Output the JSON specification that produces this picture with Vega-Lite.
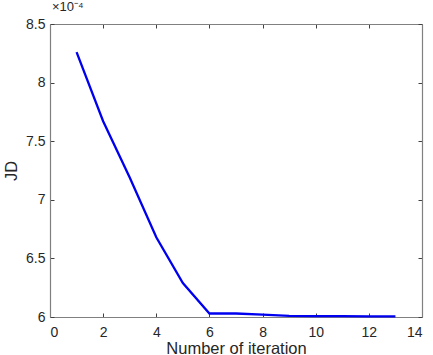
{
  "$schema": "https://vega.github.io/schema/vega-lite/v6.json",
  "width": 372,
  "height": 293,
  "autosize": "none",
  "padding": {"left": 50, "top": 24, "right": 11, "bottom": 38},
  "background": "white",
  "title": {"text": "×10⁻⁴", "anchor": "start", "frame": "group", "offset": 3, "fontSize": 13, "font": "Liberation Sans", "fontWeight": "normal", "color": "#262626", "dx": 2},
  "config": {
    "view": {"stroke": null},
    "axis": {"font": "Liberation Sans", "labelFont": "Liberation Sans", "titleFont": "Liberation Sans", "labelFontSize": 14, "titleFontSize": 16.5, "titleFontWeight": "normal", "labelColor": "#262626", "titleColor": "#262626", "domainColor": "#808080", "tickColor": "#404040", "grid": false, "domainWidth": 1.2, "tickWidth": 1}
  },
  "data": {"values": [
    {"iteration": 1, "JD": 0.000826},
    {"iteration": 2, "JD": 0.000767},
    {"iteration": 3, "JD": 0.000719},
    {"iteration": 4, "JD": 0.000668},
    {"iteration": 5, "JD": 0.000629},
    {"iteration": 6, "JD": 0.000603},
    {"iteration": 7, "JD": 0.000603},
    {"iteration": 8, "JD": 0.000602},
    {"iteration": 9, "JD": 0.000601},
    {"iteration": 10, "JD": 0.0006008},
    {"iteration": 11, "JD": 0.0006007},
    {"iteration": 12, "JD": 0.0006006},
    {"iteration": 13, "JD": 0.0006006}
  ]},
  "layer": [
    {
      "mark": {"type": "line", "color": "#0000f0", "strokeWidth": 2.3},
      "encoding": {
        "x": {"field": "iteration", "type": "quantitative", "scale": {"domain": [0, 14], "nice": false},
              "axis": {"values": [0,2,4,6,8,10,12,14], "tickSize": -4, "labelPadding": 12, "title": "Number of iteration", "titlePadding": 1}},
        "y": {"field": "JD", "type": "quantitative", "scale": {"domain": [0.0006, 0.00085], "nice": false, "zero": false},
              "axis": {"values": [0.0006, 0.00065, 0.0007, 0.00075, 0.0008, 0.00085], "labelExpr": "format(datum.value*10000, '~g')", "tickSize": -4, "labelPadding": 9, "title": "JD", "titlePadding": 6}}
      }
    },
    {
      "mark": {"type": "line", "opacity": 0},
      "encoding": {
        "x": {"field": "iteration", "type": "quantitative", "scale": {"domain": [0, 14], "nice": false},
              "axis": {"orient": "top", "values": [0,2,4,6,8,10,12,14], "tickSize": -4, "labels": false, "title": null}},
        "y": {"field": "JD", "type": "quantitative", "scale": {"domain": [0.0006, 0.00085], "nice": false, "zero": false},
              "axis": {"orient": "right", "values": [0.0006, 0.00065, 0.0007, 0.00075, 0.0008, 0.00085], "tickSize": -4, "labels": false, "title": null}}
      }
    }
  ],
  "resolve": {"axis": {"x": "independent", "y": "independent"}}
}
